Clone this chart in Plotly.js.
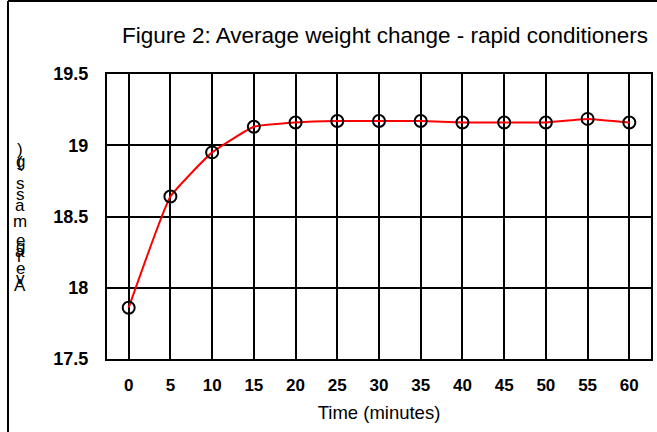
<!DOCTYPE html>
<html>
<head>
<meta charset="utf-8">
<script src="https://cdn.plot.ly/plotly-3.0.1.min.js"></script>
<style>
html,body{margin:0;padding:0;background:#fff;}
#chart{width:657px;height:432px;}
</style>
</head>
<body>
<div id="chart"></div>
<script>
// Data
var timeMinutes = [0, 5, 10, 15, 20, 25, 30, 35, 40, 45, 50, 55, 60];
var avgMass = [17.86, 18.64, 18.95, 19.13, 19.16, 19.17, 19.17, 19.17, 19.16, 19.16, 19.16, 19.185, 19.16];
var yTicks = [17.5, 18, 18.5, 19, 19.5];
var yTickLabels = ['17.5', '18', '18.5', '19', '19.5'];
var titleText = 'Figure 2: Average weight change - rapid conditioners';
var xTitleText = 'Time (minutes)';
// garbled vertical y-axis title, letters as they appear top to bottom
var yTitleLetters = [')', 'g', '(', 's', 's', 'a', 'm', 'e', 'g', 'a', 'r', 'e', 'v', 'A'];
var yTitleLetterY = [149, 161, 162, 183, 194, 205, 221, 240, 246, 252, 256, 268, 278, 285];

var FONT = '"Liberation Sans", Arial, sans-serif';

var trace = {
  x: timeMinutes,
  y: avgMass,
  type: 'scatter',
  mode: 'lines+markers',
  line: {color: '#ff0000', width: 2, shape: 'spline', smoothing: 0.35},
  marker: {symbol: 'circle-open', size: 12, color: '#000000', line: {width: 2, color: '#000000'}},
  hoverinfo: 'x+y'
};

var W = 657, H = 432;
var mL = 107, mR = 6, mT = 74, mB = 73;
var plotH = H - mT - mB;

var annotations = yTitleLetters.map(function (ch, i) {
  return {
    text: ch,
    xref: 'paper', yref: 'paper',
    x: (20 - mL) / (W - mL - mR),
    y: (H - mB - yTitleLetterY[i]) / plotH,
    xanchor: 'center', yanchor: 'middle',
    showarrow: false,
    font: {family: FONT, size: 17, color: '#000'}
  };
});

var layout = {
  width: W, height: H,
  margin: {l: mL, r: mR, t: mT, b: mB},
  paper_bgcolor: '#ffffff',
  plot_bgcolor: '#ffffff',
  showlegend: false,
  title: {
    text: titleText,
    font: {family: FONT, size: 22.5, color: '#000'},
    xref: 'container', x: 385 / W, xanchor: 'center',
    yref: 'container', y: 1 - 35 / H, yanchor: 'middle'
  },
  xaxis: {
    range: [-2.6, 62.6],
    tickvals: timeMinutes,
    ticktext: timeMinutes.map(String),
    showgrid: true, gridcolor: '#000', gridwidth: 2,
    zeroline: false,
    showline: true, linecolor: '#000', linewidth: 2, mirror: true,
    ticks: '', ticklabelstandoff: 10,
    tickfont: {family: FONT, size: 17, color: '#000', weight: 'bold'},
    title: {text: xTitleText, font: {family: FONT, size: 18.5, color: '#000'}, standoff: 12}
  },
  yaxis: {
    range: [17.5, 19.5],
    tickvals: yTicks,
    ticktext: yTickLabels,
    showgrid: true, gridcolor: '#000', gridwidth: 2,
    zeroline: false,
    showline: true, linecolor: '#000', linewidth: 2, mirror: true,
    ticks: '', ticklabelstandoff: 13,
    tickfont: {family: FONT, size: 18, color: '#000', weight: 'bold'}
  },
  annotations: annotations,
  shapes: [
    {type: 'line', xref: 'paper', yref: 'paper',
     x0: (8 - mL) / (W - mL - mR), x1: (8 - mL) / (W - mL - mR),
     y0: (H - mB - 1) / plotH, y1: -mB / plotH - 0.01,
     line: {color: '#000', width: 2}},
    {type: 'line', xref: 'paper', yref: 'paper',
     x0: (8 - mL) / (W - mL - mR), x1: (W - mL + 5) / (W - mL - mR),
     y0: (H - mB - 1) / plotH, y1: (H - mB - 1) / plotH,
     line: {color: '#000', width: 2}}
  ]
};

Plotly.newPlot('chart', [trace], layout, {displayModeBar: false, staticPlot: true});
</script>
</body>
</html>
